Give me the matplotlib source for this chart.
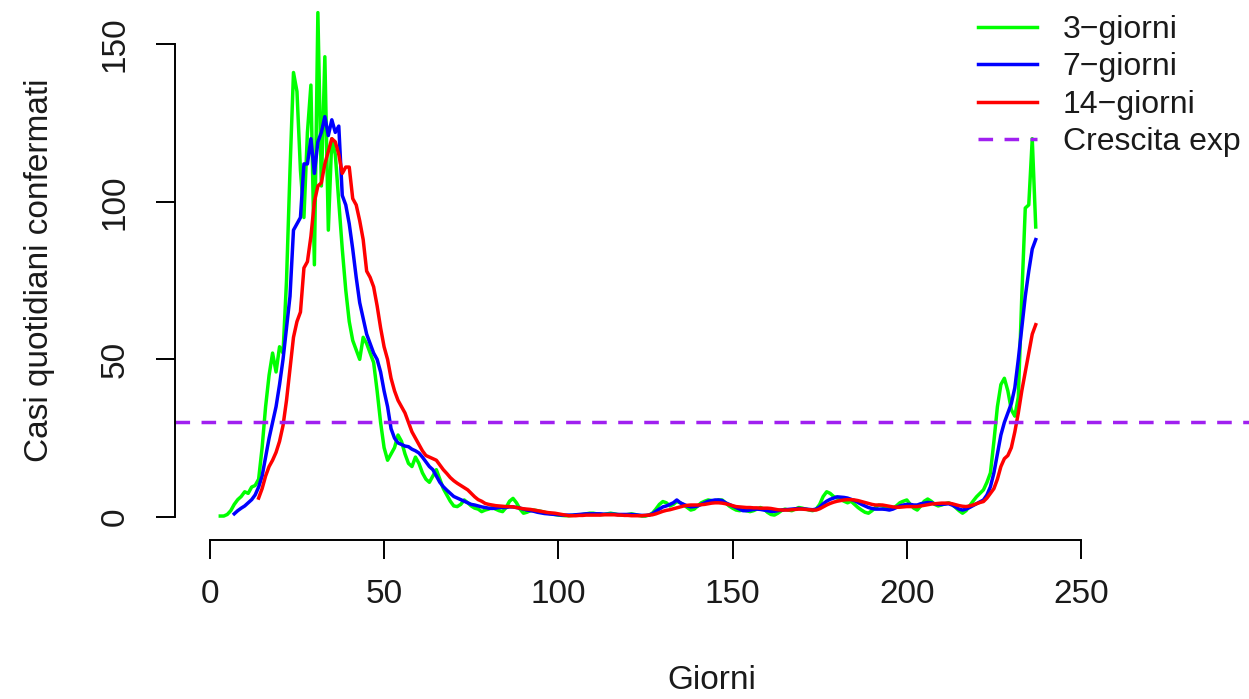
import matplotlib
matplotlib.use("Agg")
import matplotlib.pyplot as plt
import numpy as np

# medie mobili dei casi giornalieri
days_3 = np.arange(3, 238)
avg_3 = [0.3, 0.3, 0.8, 2, 4, 5.5, 6.5, 8, 7.5, 9.5,
         10, 12, 22, 35, 45, 52, 46, 54, 52, 75,
         110, 141, 135, 110, 95, 122, 137, 80, 160, 105,
         146, 91, 120, 115, 100, 85, 72, 62, 56, 53,
         50, 57, 55, 52, 49, 40, 30, 22, 18, 20,
         22, 26, 24, 20, 17, 16, 19, 17, 14, 12,
         11, 13, 15, 12, 9, 7, 5, 3.5, 3.3, 4,
         5.4, 4.5, 3.5, 2.8, 2.5, 1.7, 2.2, 2.5, 3, 2.5,
         2, 1.7, 3, 5, 5.9, 4.5, 2.5, 1.2, 1.5, 2,
         2.2, 2, 1.8, 1.5, 1.2, 1, 0.8, 0.6, 0.5, 0.4,
         0.4, 0.5, 0.6, 0.6, 0.8, 1, 1.2, 1.2, 1, 0.8,
         0.8, 1, 1.2, 1, 0.8, 0.6, 0.6, 0.8, 1, 0.8,
         0.5, 0.3, 0.3, 0.6, 1.2, 2.5, 4, 4.9, 4.5, 3.5,
         4, 4.9, 4.5, 3.8, 3, 2.2, 2.5, 3.5, 4.5, 5,
         5.4, 5.2, 5, 5.4, 5.4, 4.5, 3.5, 2.8, 2.2, 2,
         2.2, 2, 1.7, 2, 2.5, 3, 2.5, 1.5, 0.8, 0.6,
         1.2, 2, 2.5, 2.2, 2, 2.5, 3, 2.8, 2.5, 2.2,
         2, 2.5, 4, 6.5, 8, 7.5, 6.5, 6, 5.5, 5,
         4.5, 5, 4, 3, 2.2, 1.5, 1.2, 2, 3, 3.8,
         3.5, 3, 2.5, 2.8, 3.5, 4.5, 5, 5.4, 4, 2.8,
         2.2, 3.5, 5, 5.7, 5, 4, 3.5, 3.8, 4.2, 4.5,
         4, 3, 2, 1.2, 2, 3.5, 5, 6.4, 7.5, 8.6,
         11, 14, 24, 35, 42, 44, 40, 34, 32, 38,
         70, 98, 99, 120, 92]

days_7 = np.arange(7, 238)
avg_7 = [1, 2, 2.8, 3.5, 4.5, 5.5, 7, 9.5, 13, 19,
         25, 30, 35, 42, 50, 60, 70, 91, 93, 95,
         112, 112, 120, 109, 119, 122, 127, 121, 126, 122,
         124, 102, 99, 93, 85, 76, 68, 63, 58, 55,
         52, 50, 46, 40, 35, 28, 25, 23.5, 23, 22.5,
         22.3, 21.5, 21, 20.3, 19, 17.5, 16, 15, 13, 11,
         9.6, 8.5, 7.5, 6.5, 6, 5.5, 5, 4.5, 4, 3.8,
         3.5, 3.2, 3, 2.8, 2.7, 2.8, 3, 3, 3, 3.2,
         3.2, 3, 2.8, 2.5, 2.2, 2, 1.8, 1.5, 1.3, 1.1,
         1, 0.9, 0.8, 0.7, 0.6, 0.6, 0.6, 0.6, 0.7, 0.8,
         0.9, 1, 1, 1, 1, 1, 0.9, 0.9, 0.9, 0.9,
         0.8, 0.8, 0.8, 0.8, 0.8, 0.7, 0.6, 0.5, 0.5, 0.6,
         1, 1.8, 2.5, 3.2, 3.5, 4, 4.5, 5.4, 4.5, 4,
         3.5, 3.2, 3.3, 3.5, 4, 4.5, 5, 5.2, 5.4, 5.4,
         5.2, 4.5, 4, 3.5, 3, 2.5, 2, 2, 2.2, 2.4,
         2.5, 2.4, 2.2, 2, 1.8, 1.8, 2, 2.2, 2.3, 2.4,
         2.5, 2.6, 2.7, 2.6, 2.5, 2.4, 2.3, 2.5, 3.2, 4.2,
         5, 5.6, 6, 6.4, 6.3, 6.2, 6, 5.6, 5.2, 4.6,
         4, 3.5, 3, 2.7, 2.5, 2.5, 2.5, 2.4, 2.2, 2.5,
         3, 3.5, 3.8, 4, 4, 3.8, 3.8, 4.2, 4.4, 4.6,
         4.5, 4.2, 4, 4, 4.1, 4.2, 3.8, 3.2, 2.5, 2.2,
         2.5, 3, 3.6, 4.2, 4.8, 5.4, 7, 9.6, 14, 20,
         26, 30, 33, 36, 41, 50, 60, 70, 78, 85,
         88]

days_14 = np.arange(14, 238)
avg_14 = [6, 9, 13, 16, 18, 20.5, 24, 29, 37, 47,
          57, 62, 65, 79, 81, 89, 100, 105, 106, 112,
          116, 120, 119, 115, 109, 111, 111, 101, 99, 94,
          88, 78, 76, 73, 67, 60, 54, 50, 44, 40,
          37, 35, 33, 30, 27, 25, 23, 21, 19.5, 19,
          18.5, 18, 16.5, 15, 13.8, 12.5, 11.5, 10.7, 10, 9.3,
          8.6, 7.5, 6.4, 5.5, 5, 4.3, 4, 3.8, 3.6, 3.5,
          3.4, 3.3, 3.3, 3.2, 3, 2.8, 2.6, 2.5, 2.4, 2.2,
          2, 1.8, 1.6, 1.4, 1.3, 1.2, 1, 0.8, 0.6, 0.4,
          0.4, 0.4, 0.5, 0.5, 0.6, 0.6, 0.6, 0.6, 0.6, 0.7,
          0.7, 0.7, 0.7, 0.6, 0.6, 0.5, 0.5, 0.4, 0.4, 0.4,
          0.4, 0.5, 0.6, 0.7, 1, 1.4, 1.8, 2.1, 2.3, 2.6,
          2.9, 3.2, 3.5, 3.7, 3.8, 3.8, 3.8, 3.9, 4, 4.2,
          4.4, 4.5, 4.5, 4.4, 4.2, 3.9, 3.6, 3.3, 3.2, 3.1,
          3, 3, 2.9, 2.9, 2.8, 2.8, 2.8, 2.7, 2.5, 2.3,
          2.2, 2.2, 2.2, 2.3, 2.4, 2.5, 2.5, 2.4, 2.3, 2.2,
          2.2, 2.6, 3.2, 3.8, 4.3, 4.7, 5, 5.2, 5.4, 5.5,
          5.5, 5.4, 5.2, 4.9, 4.6, 4.3, 4, 3.8, 3.8, 3.8,
          3.6, 3.4, 3.2, 3.1, 3.1, 3.2, 3.3, 3.3, 3.3, 3.3,
          3.5, 3.7, 3.9, 4.1, 4.2, 4.3, 4.4, 4.4, 4.4, 4.2,
          3.9, 3.6, 3.4, 3.3, 3.5, 3.8, 4.2, 4.6, 4.9, 6,
          7.5, 9, 12, 16, 18.5, 19.5, 22, 27, 33, 40,
          46, 52, 58, 61]

soglia = 30
labels = ["3\u2212giorni", "7\u2212giorni", "14\u2212giorni", "Crescita exp"]

plt.rcParams["font.family"] = ["Liberation Sans", "DejaVu Sans"]

fig = plt.figure(figsize=(12.49, 6.99), dpi=100)
ax = fig.add_axes([175 / 1249, 159 / 699, 1 - 175 / 1249, 540 / 699])

lw = 2.5
ax.plot(days_3, avg_3, color="#00FF00", lw=lw, label=labels[0])
ax.plot(days_7, avg_7, color="#0000FF", lw=lw, label=labels[1])
ax.plot(days_14, avg_14, color="#FF0000", lw=lw, label=labels[2])
ax.axhline(soglia, color="#A020F0", lw=lw, dashes=(4.2, 3.3), label=labels[3])

ax.set_xlim(-10, 298.2)
ax.set_ylim(-7.3, 164)

for s in ["top", "right"]:
    ax.spines[s].set_visible(False)
ax.spines["left"].set_bounds(0, 150)
ax.spines["bottom"].set_bounds(0, 250)
ax.spines["left"].set_linewidth(1.4)
ax.spines["bottom"].set_linewidth(1.4)

ax.set_xticks([0, 50, 100, 150, 200, 250])
ax.set_yticks([0, 50, 100, 150])
ax.set_yticklabels(["0", "50", "100", "150"], rotation=90, va="center")
ax.tick_params(axis="both", direction="out", length=14, width=1.4,
               labelsize=24, labelcolor="#1a1a1a")
ax.tick_params(axis="x", pad=14)
ax.tick_params(axis="y", pad=18)

ax.set_xlabel("Giorni", fontsize=24, color="#1a1a1a", labelpad=40)
ax.set_ylabel("Casi quotidiani confermati", fontsize=24, color="#1a1a1a", labelpad=32)

leg = ax.legend(loc="upper left", bbox_to_anchor=(978 / 1249, 1 - 15 / 699),
                bbox_transform=fig.transFigure, frameon=False, fontsize=23,
                handlelength=1.85, handletextpad=0.8, labelspacing=0.23,
                borderpad=0, borderaxespad=0)
for t in leg.get_texts():
    t.set_color("#1a1a1a")

fig.savefig("out.png", dpi=100)
